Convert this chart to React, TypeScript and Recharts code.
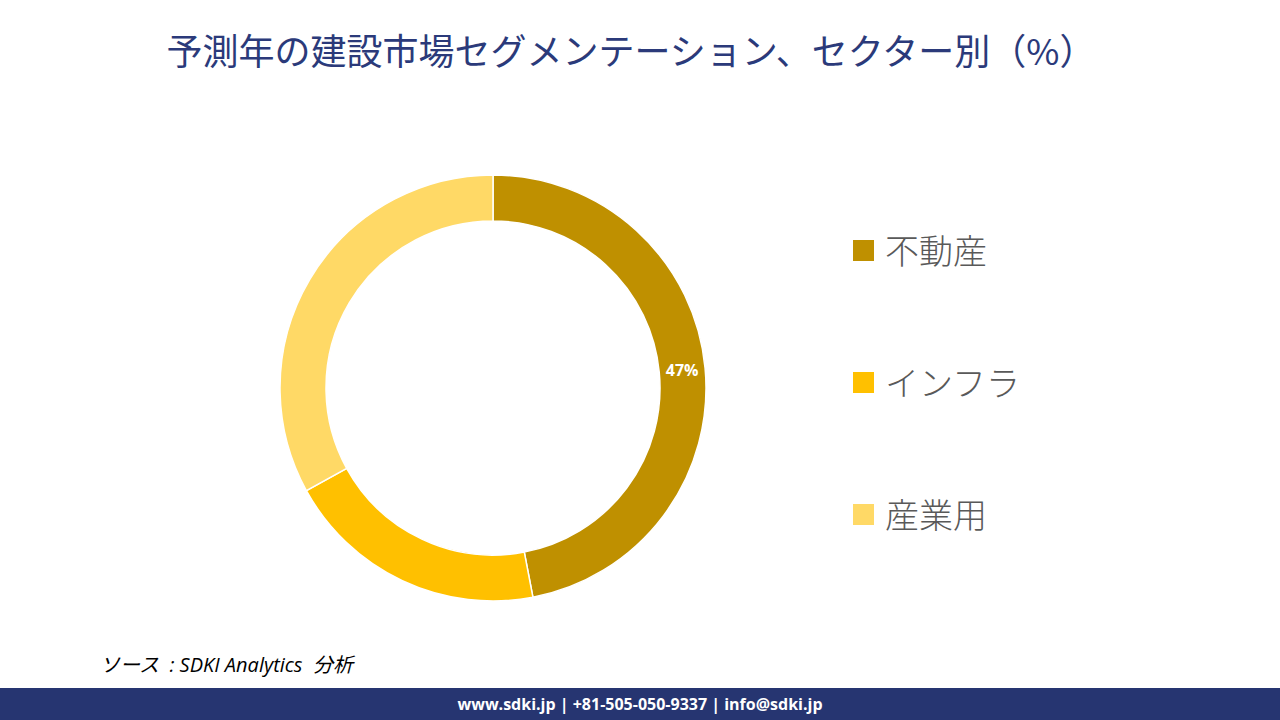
import { Cell, Pie, PieChart } from 'recharts'

const SECTORS = ['不動産', 'インフラ', '産業用']
const SHARES = [47, 20, 33]
const SHARE_LABELS = ['47%', '', '']
const COLORS = ['#BF9000', '#FFC000', '#FFD966']

const TITLE = '予測年の建設市場セグメンテーション、セクター別（%）'
const SOURCE = 'ソース  : SDKI Analytics  分析'
const FOOTER = 'www.sdki.jp | +81-505-050-9337 | info@sdki.jp'

const JP_FONT = '"Noto Sans CJK JP", "Noto Sans", sans-serif'

const rows = SECTORS.map((name, i) => ({ name, value: SHARES[i], label: SHARE_LABELS[i] }))

const RADIAN = Math.PI / 180

interface SliceLabelProps {
  cx: number
  cy: number
  midAngle: number
  innerRadius: number
  outerRadius: number
  index: number
}

function SliceLabel({ cx, cy, midAngle, innerRadius, outerRadius, index }: SliceLabelProps) {
  const text = rows[index]?.label
  if (!text) return null
  const r = (innerRadius + outerRadius) / 2
  const x = cx + r * Math.cos(-midAngle * RADIAN)
  const y = cy + r * Math.sin(-midAngle * RADIAN)
  return (
    <text
      x={x}
      y={y}
      fill="#FFFFFF"
      fontSize={16}
      fontWeight={700}
      fontFamily='"Open Sans", "DejaVu Sans", sans-serif'
      textAnchor="middle"
      dominantBaseline="central"
    >
      {text}
    </text>
  )
}

function SideLegend() {
  return (
    <div style={{ display: 'flex', flexDirection: 'column', gap: 96 }}>
      {rows.map((row, i) => (
        <div key={row.name} style={{ display: 'flex', alignItems: 'center', height: 36 }}>
          <span
            style={{
              display: 'inline-block',
              width: 21,
              height: 21,
              backgroundColor: COLORS[i],
              marginRight: 11,
            }}
          />
          <span
            style={{
              fontFamily: JP_FONT,
              fontSize: 34,
              fontWeight: 300,
              color: '#595959',
              lineHeight: '36px',
            }}
          >
            {row.name}
          </span>
        </div>
      ))}
    </div>
  )
}

export default function App() {
  return (
    <div
      style={{
        position: 'absolute',
        left: 0,
        top: 0,
        width: 1280,
        height: 720,
        background: '#FFFFFF',
        overflow: 'hidden',
      }}
    >
      <div
        style={{
          position: 'absolute',
          left: 0,
          top: 23,
          width: 1262,
          textAlign: 'center',
          fontFamily: JP_FONT,
          fontSize: 36,
          fontWeight: 400,
          color: '#2B3A7A',
          lineHeight: '52px',
        }}
      >
        {TITLE}
      </div>

      <div style={{ position: 'absolute', left: 0, top: 0 }}>
        <PieChart width={1280} height={720} margin={{ top: 0, right: 0, bottom: 0, left: 0 }}>
          <Pie
            data={rows}
            dataKey="value"
            nameKey="name"
            cx={493}
            cy={388}
            innerRadius={167}
            outerRadius={213}
            startAngle={90}
            endAngle={-270}
            stroke="#FFFFFF"
            strokeWidth={1.5}
            labelLine={false}
            label={SliceLabel}
            isAnimationActive={false}
          >
            {rows.map((row, i) => (
              <Cell key={row.name} fill={COLORS[i]} />
            ))}
          </Pie>
        </PieChart>
      </div>

      <div style={{ position: 'absolute', left: 853, top: 232 }}>
        <SideLegend />
      </div>

      <div
        style={{
          position: 'absolute',
          left: 100,
          top: 649,
          fontFamily: '"Open Sans", "Noto Sans CJK JP", sans-serif',
          fontStyle: 'italic',
          fontSize: 20,
          color: '#000000',
          whiteSpace: 'pre',
        }}
      >
        {SOURCE}
      </div>

      <div
        style={{
          position: 'absolute',
          left: 0,
          top: 688,
          width: 1280,
          height: 32,
          backgroundColor: '#263571',
          color: '#FFFFFF',
          fontFamily: '"Open Sans", "DejaVu Sans", sans-serif',
          fontWeight: 700,
          fontSize: 16,
          lineHeight: '32px',
          textAlign: 'center',
        }}
      >
        {FOOTER}
      </div>
    </div>
  )
}
